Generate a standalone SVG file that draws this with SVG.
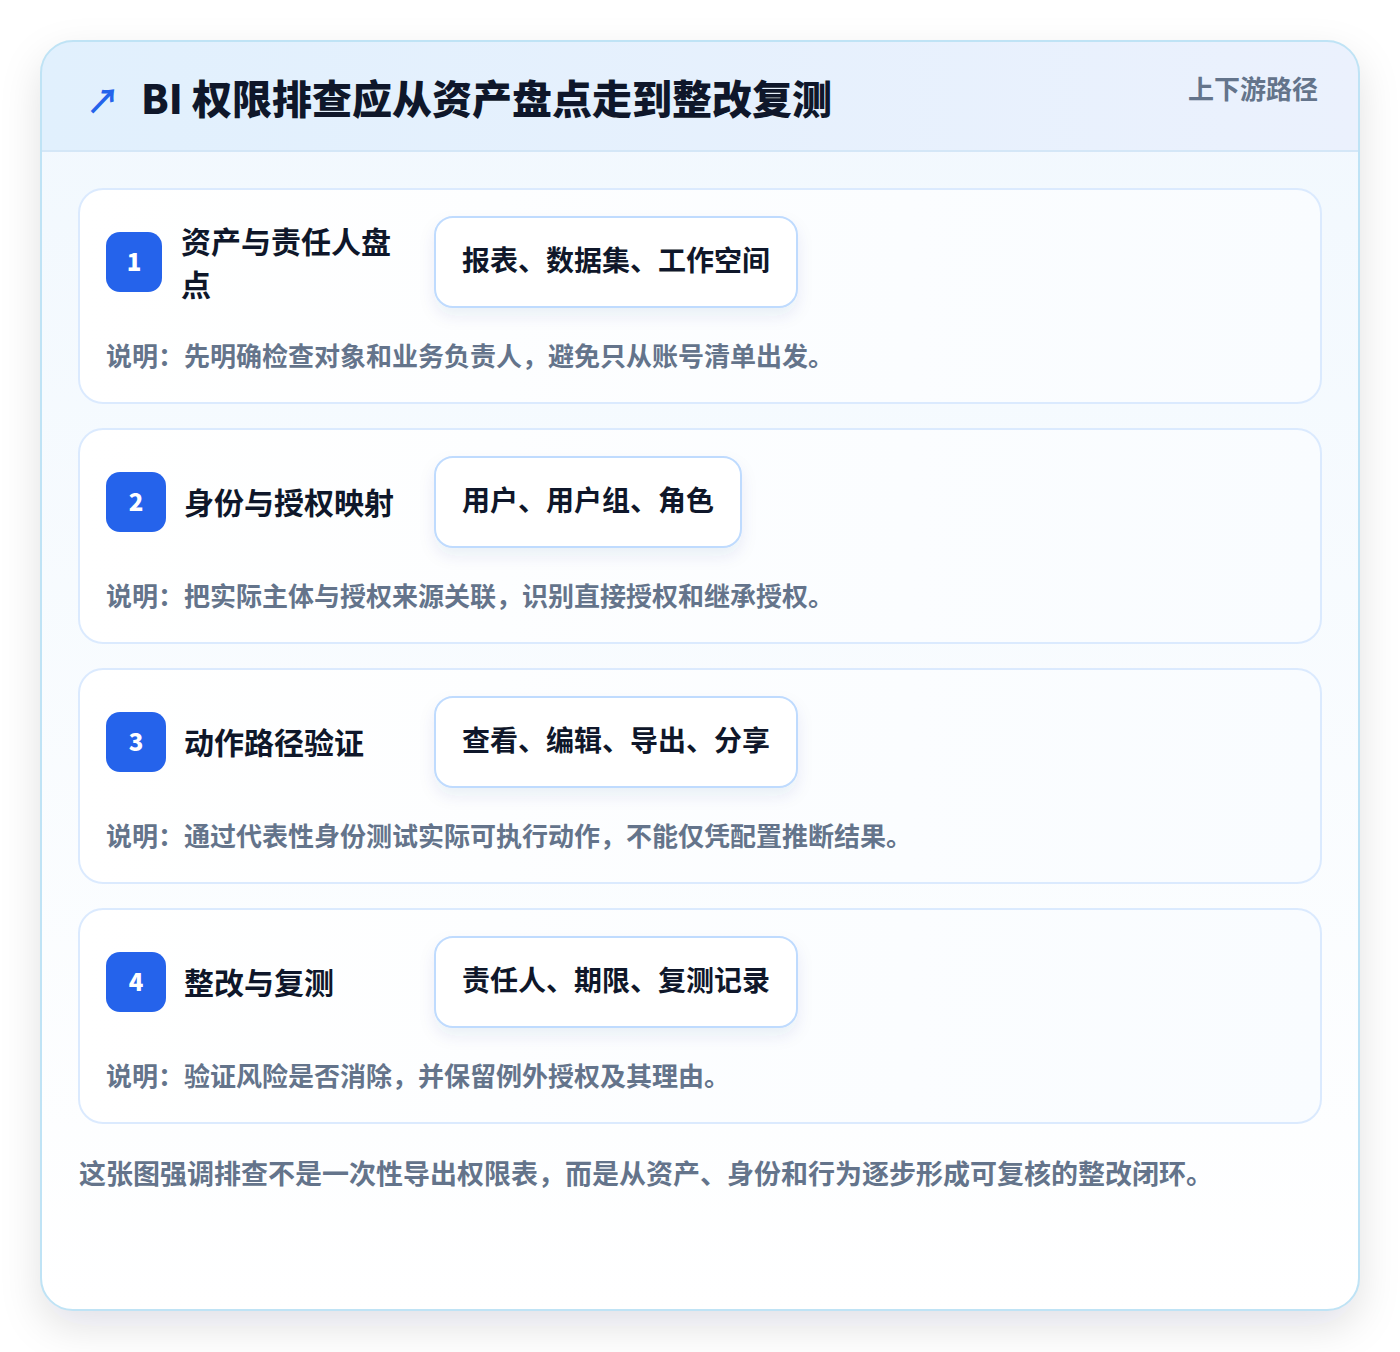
<svg xmlns="http://www.w3.org/2000/svg" width="1400" height="1352" viewBox="0 0 1400 1352">
<defs>
<style>
.f{font-family:"Noto Sans CJK SC","Liberation Sans",sans-serif;font-weight:700}
.title{font-size:40px;fill:#0f172a;font-weight:900}
.meta{font-size:26px;fill:#64748b}
.step{fill:url(#stepG);stroke:#dbeafe;stroke-width:2}
.badge{fill:#2563eb}
.num{font-size:24px;fill:#ffffff;text-anchor:middle;font-weight:900}
.stitle{font-size:30px;fill:#0f172a}
.chip{fill:#ffffff;stroke:#bfdbfe;stroke-width:2}
.chipt{font-size:28px;fill:#0f172a;text-anchor:middle}
.desc{font-size:26px;fill:#64748b}
</style>
<linearGradient id="cardG" x1="0" y1="0" x2="0" y2="1">
<stop offset="0" stop-color="#f1f8fe"/>
<stop offset="1" stop-color="#ffffff"/>
</linearGradient>
<linearGradient id="headG" x1="0" y1="0" x2="1" y2="0">
<stop offset="0" stop-color="#e1f0fd"/>
<stop offset="1" stop-color="#ebf1fd"/>
</linearGradient>
<linearGradient id="stepG" x1="0" y1="0" x2="1" y2="0">
<stop offset="0" stop-color="#ffffff"/>
<stop offset="1" stop-color="#f9fcff"/>
</linearGradient>
<filter id="sh" x="-10%" y="-10%" width="120%" height="125%">
<feDropShadow dx="0" dy="16" stdDeviation="20" flood-color="#0f172a" flood-opacity="0.12"/>
</filter>
<filter id="csh" x="-20%" y="-30%" width="140%" height="180%">
<feDropShadow dx="0" dy="8" stdDeviation="8" flood-color="#1e3a8a" flood-opacity="0.08"/>
</filter>
<clipPath id="cardClip"><rect x="41" y="41" width="1318" height="1269" rx="32"/></clipPath>
</defs>
<rect x="0" y="0" width="1400" height="1352" fill="#ffffff"/>
<g id="card">
<rect x="41" y="41" width="1318" height="1269" rx="32" fill="url(#cardG)" filter="url(#sh)"/>
<g clip-path="url(#cardClip)">
<rect x="41" y="41" width="1318" height="110" fill="url(#headG)"/>
<line x1="41" y1="151" x2="1359" y2="151" stroke="#d4e7f7" stroke-width="2"/>
</g>
<rect x="41" y="41" width="1318" height="1269" rx="32" fill="none" stroke="#bfe3f5" stroke-width="2"/>
</g>
<g id="header">
<text class="f" x="86" y="114" font-size="34" fill="#2563eb">↗</text>
<text class="f title" x="141" y="114">BI 权限排查应从资产盘点走到整改复测</text>
<text class="f meta" x="1318" y="99" text-anchor="end">上下游路径</text>
</g>
<g id="step1">
<rect class="step" x="79" y="189" width="1242" height="214" rx="24"/>
<rect class="badge" x="106" y="232" width="56" height="60" rx="14"/>
<text class="f num" x="134" y="271">1</text>
<text class="f stitle" x="181" y="253">资产与责任人盘</text>
<text class="f stitle" x="181" y="296">点</text>
<rect class="chip" x="435" y="217" width="362" height="90" rx="18" filter="url(#csh)"/>
<text class="f chipt" x="616" y="271">报表、数据集、工作空间</text>
<text class="f desc" x="106" y="366">说明：先明确检查对象和业务负责人，避免只从账号清单出发。</text>
</g>
<g id="step2">
<rect class="step" x="79" y="429" width="1242" height="214" rx="24"/>
<rect class="badge" x="106" y="472" width="60" height="60" rx="14"/>
<text class="f num" x="136" y="511">2</text>
<text class="f stitle" x="184" y="514">身份与授权映射</text>
<rect class="chip" x="435" y="457" width="306" height="90" rx="18" filter="url(#csh)"/>
<text class="f chipt" x="588" y="511">用户、用户组、角色</text>
<text class="f desc" x="106" y="606">说明：把实际主体与授权来源关联，识别直接授权和继承授权。</text>
</g>
<g id="step3">
<rect class="step" x="79" y="669" width="1242" height="214" rx="24"/>
<rect class="badge" x="106" y="712" width="60" height="60" rx="14"/>
<text class="f num" x="136" y="751">3</text>
<text class="f stitle" x="184" y="754">动作路径验证</text>
<rect class="chip" x="435" y="697" width="362" height="90" rx="18" filter="url(#csh)"/>
<text class="f chipt" x="616" y="751">查看、编辑、导出、分享</text>
<text class="f desc" x="106" y="846">说明：通过代表性身份测试实际可执行动作，不能仅凭配置推断结果。</text>
</g>
<g id="step4">
<rect class="step" x="79" y="909" width="1242" height="214" rx="24"/>
<rect class="badge" x="106" y="952" width="60" height="60" rx="14"/>
<text class="f num" x="136" y="991">4</text>
<text class="f stitle" x="184" y="994">整改与复测</text>
<rect class="chip" x="435" y="937" width="362" height="90" rx="18" filter="url(#csh)"/>
<text class="f chipt" x="616" y="991">责任人、期限、复测记录</text>
<text class="f desc" x="106" y="1086">说明：验证风险是否消除，并保留例外授权及其理由。</text>
</g>
<g id="connectors"/>
<g id="footer">
<text class="f desc" x="79" y="1184" style="font-size:27px">这张图强调排查不是一次性导出权限表，而是从资产、身份和行为逐步形成可复核的整改闭环。</text>
</g>
</svg>
